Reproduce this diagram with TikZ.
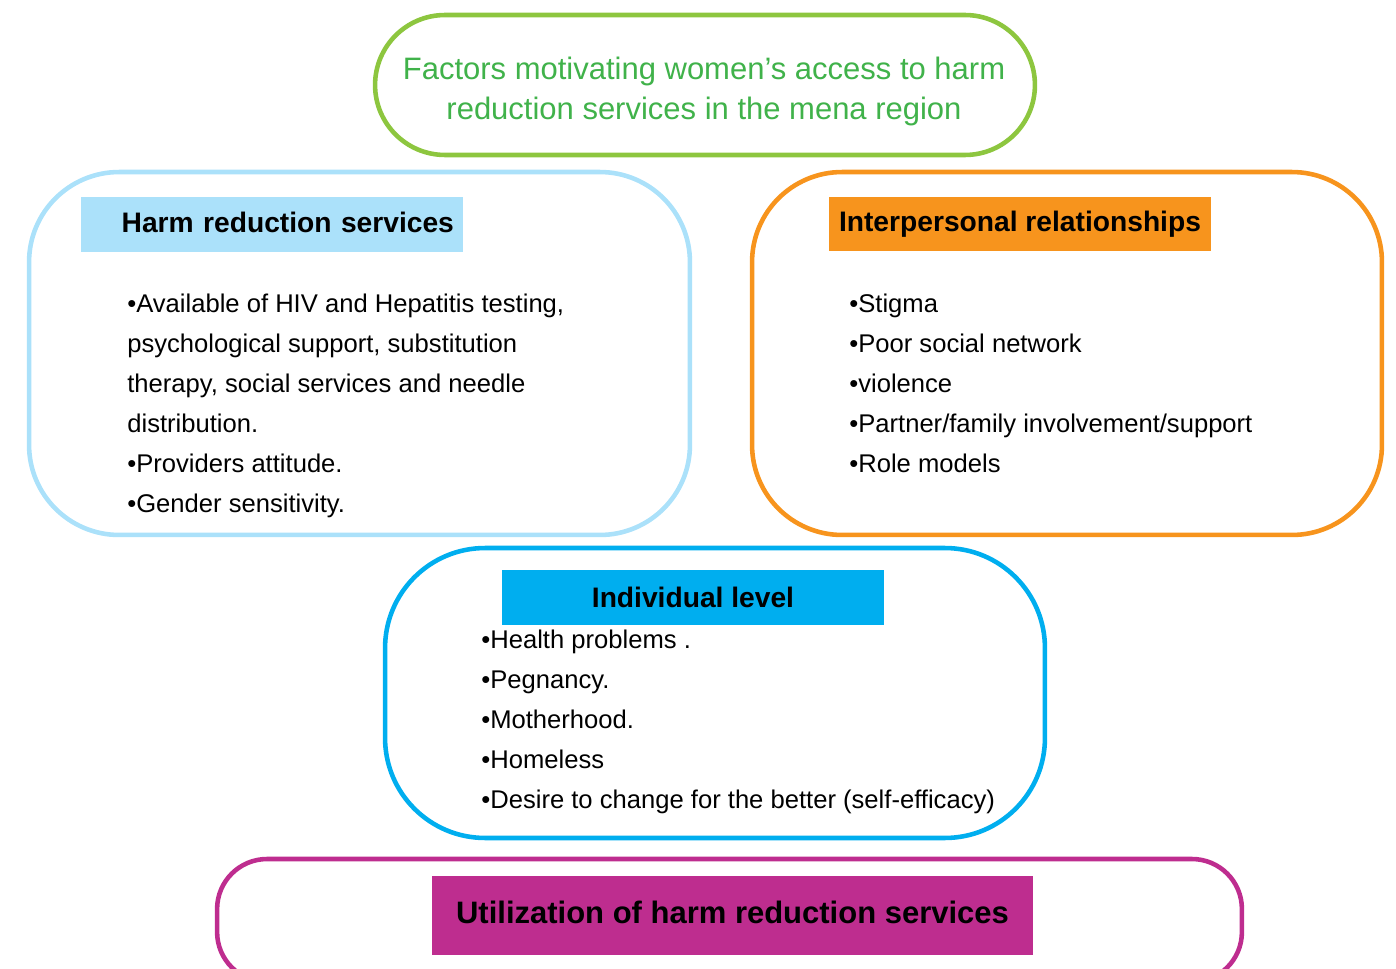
\documentclass[tikz,border=0pt]{standalone}
\usepackage{fontspec}
\setmainfont{Liberation Sans}
\definecolor{titleline}{RGB}{141,198,63}
\definecolor{titletext}{RGB}{64,178,74}
\definecolor{hrblue}{RGB}{171,225,250}
\definecolor{irorange}{RGB}{247,148,29}
\definecolor{ilcyan}{RGB}{0,174,239}
\definecolor{umagenta}{RGB}{190,45,143}
\begin{document}
\begin{tikzpicture}[x=0.02cm,y=-0.02cm,
    frame/.style={draw,line width=2.6pt,rounded corners=1.8cm},
    head/.style={font=\fontsize{16.05}{19}\selectfont\bfseries,minimum width=7.64cm,minimum height=1.1cm},
    items/.style={anchor=north west,align=left,font=\fontsize{14.57}{22.76}\selectfont}]
    \tikzstyle{every node}+=[inner sep=0pt]
    \clip (0,0) rectangle (1396,969);
    \node (title) [frame,draw=titleline,rounded corners=1.4cm,minimum width=13.2cm,minimum height=2.8cm] at (705,85) {};
    \node (titlelines) [text=titletext,align=center,font=\fontsize{17.64}{22.76}\selectfont] at (704,91) {Factors motivating women’s access to harm\\reduction services in the mena region};
    \node (hrsbox) [frame,draw=hrblue,minimum width=13.22cm,minimum height=7.26cm] at (359.5,353.5) {};
    \node (hrshead) [head,fill=hrblue,text width=7.28cm,inner xsep=0.18cm,align=right,text depth=0.08cm] at (272,224.5) {Harm reduction services};
    \node (hrsitems) [items] at (127,294) {•Available of HIV and Hepatitis testing,\\psychological support, substitution\\therapy, social services and needle\\distribution.\\•Providers attitude.\\•Gender sensitivity.};
    \node (irbox) [frame,draw=irorange,minimum width=12.6cm,minimum height=7.26cm] at (1067,353.5) {};
    \node (irhead) [head,fill=irorange,minimum height=1.08cm] at (1020,224) {Interpersonal relationships};
    \node (iritems) [items] at (849,294) {•Stigma\\•Poor social network\\•violence\\•Partner/family involvement/support\\•Role models};
    \node (ilbox) [frame,draw=ilcyan,rounded corners=2cm,minimum width=13.2cm,minimum height=5.8cm] at (715,693) {};
    \node (ilhead) [head,fill=ilcyan] at (693,597.5) {Individual level};
    \node (ilitems) [items] at (481,630) {•Health problems .\\•Pegnancy.\\•Motherhood.\\•Homeless\\•Desire to change for the better (self-efficacy)};
    \node (uhrsbox) [frame,draw=umagenta,rounded corners=1cm,minimum width=20.5cm,minimum height=2.46cm] at (729.5,920.5) {};
    \node (uhrshead) [head,fill=umagenta,font=\fontsize{17.64}{21}\selectfont\bfseries,minimum width=12.02cm,minimum height=1.58cm,text depth=0.14cm] at (732.5,915.5) {Utilization of harm reduction services};
\end{tikzpicture}
\end{document}
